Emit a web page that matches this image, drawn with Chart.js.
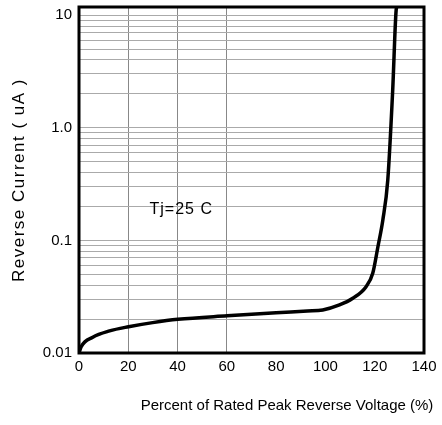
<!DOCTYPE html>
<html>
<head>
<meta charset="utf-8">
<script src="https://cdn.jsdelivr.net/npm/chart.js@4/dist/chart.umd.min.js"></script>
<style>
  html, body { margin: 0; padding: 0; background: #fff; }
</style>
</head>
<body>
<canvas id="chart" width="442" height="425"></canvas>
<script>
// percent of rated peak reverse voltage
const voltage = [0, 0.9, 5.6, 12.4, 20.1, 29.9, 40.1, 60.1, 80, 92.7, 98.9, 105.7, 111.1, 116.5, 119.2, 121.3, 123.3, 125.3, 127.3, 128.7, 129];
// reverse current (uA)
const current = [0.01, 0.0114, 0.0138, 0.0157, 0.0171, 0.0186, 0.0199, 0.0214, 0.0228, 0.0236, 0.0241, 0.0267, 0.0306, 0.0388, 0.051, 0.0878, 0.152, 0.343, 2.16, 11.1, 11.8];

const xTicks = [0, 20, 40, 60, 80, 100, 120, 140];
const xGridShown = [20, 40, 60];
const yDecades = [0.01, 0.1, 1, 10];
const yLabels = ['0.01', '0.1', '1.0', '10'];
const yTop = 11.8;
const note = { x: 28.6, y: 0.186, text: 'Tj=25 C' };
const xTitle = 'Percent of Rated Peak Reverse Voltage (%)';
const yTitle = 'Reverse Current ( uA )';

const yGrid = [];
yDecades.forEach(d => {
  for (let m = 1; m <= 9; m++) {
    const v = +(d * m).toPrecision(3);
    if (v <= 10) yGrid.push(v);
  }
});

const font = "'Liberation Sans', Arial, sans-serif";

// frame around the plot, the note and the axis titles
const frame = {
  id: 'frame',
  afterDraw(chart) {
    const { ctx, chartArea: a, scales } = chart;
    ctx.save();
    ctx.strokeStyle = '#000';
    ctx.lineWidth = 3;
    ctx.strokeRect(a.left, a.top, a.right - a.left, a.bottom - a.top);
    ctx.fillStyle = '#000';
    ctx.textBaseline = 'middle';

    ctx.font = '16px ' + font;
    ctx.letterSpacing = '1px';
    ctx.textAlign = 'left';
    ctx.fillText(note.text, scales.x.getPixelForValue(note.x), scales.y.getPixelForValue(note.y));

    ctx.font = '15px ' + font;
    ctx.letterSpacing = '0px';
    ctx.textAlign = 'center';
    ctx.fillText(xTitle, 287, 406);

    ctx.font = '17px ' + font;
    ctx.letterSpacing = '1.5px';
    ctx.translate(19, 180);
    ctx.rotate(-Math.PI / 2);
    ctx.fillText(yTitle, 0, 0);
    ctx.restore();
  }
};

new Chart(document.getElementById('chart'), {
  type: 'line',
  data: {
    datasets: [{
      data: voltage.map((v, i) => ({ x: v, y: current[i] })),
      borderColor: '#000',
      borderWidth: 3.5,
      pointRadius: 0,
      cubicInterpolationMode: 'monotone',
      fill: false
    }]
  },
  plugins: [frame],
  options: {
    responsive: false,
    animation: false,
    layout: { padding: { top: 7, right: 18, left: 0, bottom: 0 } },
    plugins: { legend: { display: false }, tooltip: { enabled: false } },
    scales: {
      x: {
        type: 'linear',
        min: 0,
        max: 140,
        afterBuildTicks: s => { s.ticks = xTicks.map(v => ({ value: v })); },
        afterFit: s => { s.height = 72; },
        grid: {
          drawTicks: false,
          color: c => xGridShown.includes(c.tick && c.tick.value) ? '#888' : 'rgba(0,0,0,0)',
          lineWidth: 1
        },
        border: { display: false },
        ticks: { color: '#000', padding: 5, font: { family: font, size: 15 }, maxRotation: 0 }
      },
      y: {
        type: 'logarithmic',
        min: 0.01,
        max: yTop,
        afterBuildTicks: s => { s.ticks = yGrid.map(v => ({ value: v })); },
        afterFit: s => { s.width = 79; s.paddingTop = 0; s.paddingBottom = 0; },
        grid: {
          drawTicks: false,
          color: '#aaa',
          lineWidth: 1,
          borderDash: [6, 3]
        },
        border: { display: false },
        ticks: {
          color: '#000',
          padding: 7,
          autoSkip: false,
          font: { family: font, size: 15 },
          callback: v => {
            const i = yDecades.findIndex(d => Math.abs(d - v) < d * 1e-6);
            return i >= 0 ? yLabels[i] : '';
          }
        }
      }
    }
  }
});
</script>
</body>
</html>
